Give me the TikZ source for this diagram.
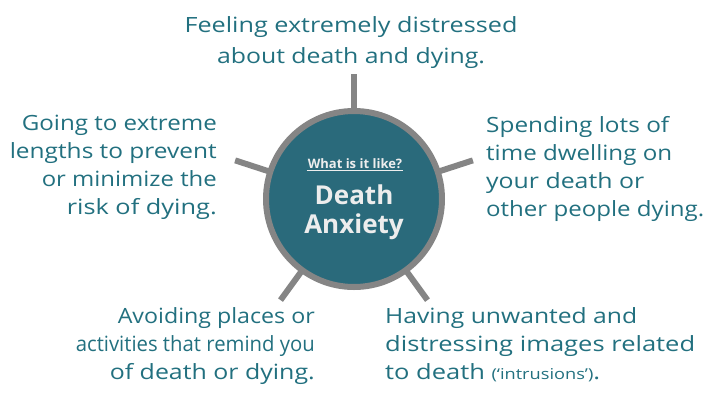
\documentclass[tikz,border=0pt]{standalone}
\usepackage{fontspec}
\usepackage{graphicx}
\setmainfont{Open Sans}
\usetikzlibrary{calc}
\definecolor{teal1}{HTML}{2A6A7B}
\definecolor{txtc}{HTML}{22707F}
\definecolor{ring}{HTML}{858585}
\definecolor{pale}{HTML}{EDEDED}
\newsavebox\flbox
\newcommand\fl[2]{\sbox\flbox{#2}\pgfmathsetmacro\sxf{#1/\the\wd\flbox}\scalebox{\sxf}[1]{\usebox\flbox}}
\newcommand\firststrut{\rule{0pt}{17pt}}
\begin{document}
\begin{tikzpicture}[x=1pt,y=-1pt,
  lbl/.style={text=txtc,font=\fontsize{21}{28}\selectfont,inner sep=0pt},
  spoke/.style={draw=ring,line width=6pt},
  hub/.style={circle,fill=teal1,draw=ring,line width=6pt,minimum size=176pt,inner sep=0pt}]
\useasboundingbox (0,0) rectangle (710,400);
\foreach \a/\n in {90/t,162/l,18/r,234/bl,306/br}{
  \coordinate (i\n) at ($(354,199)+(\a:85pt)$);
  \coordinate (o\n) at ($(354,199)+(\a:125pt)$);
  \draw[spoke] (i\n) -- (o\n);
}
\node[hub] (c) at (354,199) {};
\node[text=pale,font=\bfseries\fontsize{13}{15}\selectfont,inner sep=1pt] (q) at (355,164) {What is it like?};
\draw[pale,line width=0.9pt] (q.south west) -- (q.south east);
\node[text=pale,font=\bfseries\fontsize{26}{29}\selectfont,align=center] (d) at (354,212) {Death\\Anxiety};
\node[lbl,align=center,anchor=north,font=\fontsize{21}{31.5}\selectfont] (tt) at (351,15) {\firststrut\fl{333pt}{Feeling extremely distressed}\\\fl{268pt}{about death and dying.}};
\node[lbl,align=right,anchor=north east] (tl) at (217,113) {\firststrut\fl{195pt}{Going to extreme}\\\fl{207pt}{lengths to prevent}\\\fl{175pt}{or minimize the}\\\fl{150pt}{risk of dying.}};
\node[lbl,align=left,anchor=north west] (tr) at (486,115) {\firststrut\fl{183pt}{Spending lots of}\\\fl{186pt}{time dwelling on}\\\fl{158pt}{your death or}\\\fl{218pt}{other people dying.}};
\node[lbl,align=right,anchor=north east] (bl) at (315,306) {\firststrut\fl{197pt}{Avoiding places or}\\\fl{239pt}{activities that remind you}\\\fl{205pt}{of death or dying.}};
\node[lbl,align=left,anchor=north west] (br) at (385,306) {\firststrut\fl{252pt}{Having unwanted and}\\\fl{310pt}{distressing images related}\\\fl{215pt}{to death {\fontsize{15}{28}\selectfont(‘intrusions’)}.}};
\end{tikzpicture}
\end{document}
